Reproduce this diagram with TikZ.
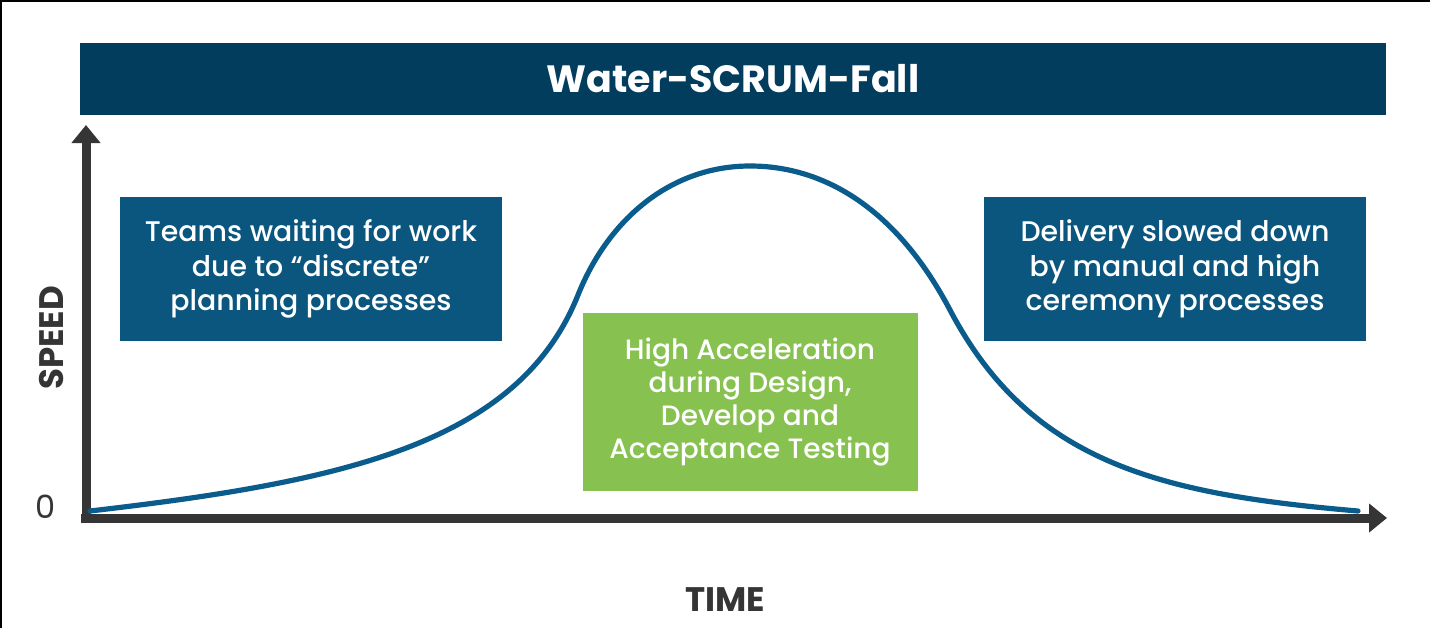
\documentclass[tikz,border=0pt]{standalone}
\usepackage{fontspec}
\setmainfont{Poppins}
\newfontfamily\boxfont{Poppins Medium}
\usepackage{xcolor}
\usetikzlibrary{arrows.meta}
\definecolor{titleblue}{HTML}{023D5E}
\definecolor{boxblue}{HTML}{0B567F}
\definecolor{boxgreen}{HTML}{87C150}
\definecolor{curveblue}{HTML}{0A5C8C}
\definecolor{axisgray}{HTML}{353535}

\tikzset{
    infobox/.style = {fill = boxblue, text = white, align = center, inner sep = 0pt,
        minimum width = 191pt, minimum height = 72pt, font = \boxfont\fontsize{14.2}{17.25}\selectfont},
    axis/.style = {line width = 4.5pt, color = axisgray, -{Triangle[width = 14pt, length = 9pt]}},
    axislabel/.style = {text = axisgray, font = \bfseries\fontsize{17}{20}\selectfont}
}

\begin{document}
\begin{tikzpicture}[x = 0.5pt, y = -0.5pt]
        \useasboundingbox (0, 0) rectangle (1430, 628);
        \fill [white] (0, 0) rectangle (1430, 628);
        % Frame
        \draw [line width = 1pt] (0, 0.5) -- (1430, 0.5);
        \draw [line width = 1pt] (0.5, 0) -- (0.5, 628);

        % Title
        \node [fill = titleblue, text = white, inner sep = 0pt, minimum width = 653pt, minimum height = 36pt,
            font = \bfseries\fontsize{19}{22}\selectfont] (title) at (733, 79) {Water-SCRUM-Fall};

        % Axes
        \coordinate (origin) at (86, 518);
        \coordinate (ybase) at (86, 523);
        \coordinate (xbase) at (81, 518);
        \coordinate (ytip) at (86, 125);
        \coordinate (xtip) at (1387, 518);
        \draw [axis] (ybase) -- (ytip);
        \draw [axis] (xbase) -- (xtip);

        % Speed curve
        \coordinate (start) at (90, 511);
        \coordinate (rise) at (578, 295);
        \coordinate (peak) at (750, 166);
        \coordinate (fall) at (950, 310);
        \coordinate (stop) at (1358, 511);
        \draw [line width = 2.6pt, color = curveblue, line cap = round]
            (start) .. controls (340, 482) and (518, 445) .. (rise)
                    .. controls (608, 220) and (670, 166) .. (peak)
                    .. controls (830, 166) and (900, 215) .. (fall)
                    .. controls (1030, 462) and (1158, 494) .. (stop);

        % Boxes
        \node [infobox] (waiting) at (311, 269) {Teams waiting for work\\due to “discrete”\\planning processes};
        \node [infobox] (delivery) at (1175, 269) {Delivery slowed down\\by manual and high\\ceremony processes};
        \node [infobox, fill = boxgreen, minimum width = 167.5pt, minimum height = 89pt,
            font = \boxfont\fontsize{14}{16.5}\selectfont] (accel) at (750, 402)
            {High Acceleration\\during Design,\\Develop and\\Acceptance Testing};

        % Axis labels
        \node [axislabel, rotate = 90] (speed) at (52, 338) {SPEED};
        \node [axislabel] (time) at (725, 600) {TIME};
        \node [text = axisgray, font = \fontsize{16}{18}\selectfont] (zero) at (46, 507) {0};

    \end{tikzpicture}
\end{document}
